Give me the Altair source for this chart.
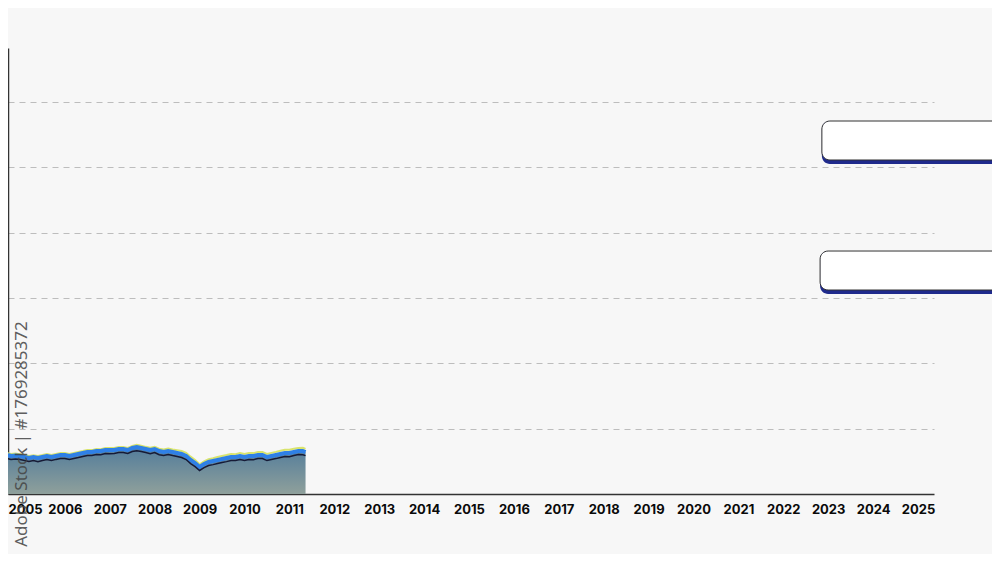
import altair as alt
import pandas as pd

# ---- data ----
years = [2004.73, 2004.8, 2004.9, 2005.0, 2005.1, 2005.2, 2005.3, 2005.4, 2005.5, 2005.6,
         2005.7, 2005.8, 2005.9, 2006.0, 2006.1, 2006.2, 2006.3, 2006.4, 2006.5, 2006.6,
         2006.7, 2006.8, 2006.9, 2007.0, 2007.1, 2007.2, 2007.3, 2007.4, 2007.5, 2007.6,
         2007.7, 2007.8, 2007.9, 2008.0, 2008.1, 2008.2, 2008.3, 2008.4, 2008.5, 2008.6,
         2008.7, 2008.8, 2008.9, 2009.0, 2009.1, 2009.2, 2009.3, 2009.4, 2009.5, 2009.6,
         2009.7, 2009.8, 2009.9, 2010.0, 2010.1, 2010.2, 2010.3, 2010.4, 2010.5, 2010.6,
         2010.7, 2010.8, 2010.9, 2011.0, 2011.1, 2011.2, 2011.3, 2011.36]

blue = [5.97, 5.82, 5.90, 5.82, 5.67, 5.51, 5.67, 5.51, 5.67, 5.82,
        5.67, 5.82, 5.97, 5.97, 5.82, 5.97, 6.13, 6.28, 6.43, 6.43,
        6.58, 6.58, 6.74, 6.74, 6.74, 6.89, 6.89, 6.74, 7.04, 7.20,
        7.04, 6.89, 6.74, 6.89, 6.58, 6.43, 6.58, 6.43, 6.28, 6.13,
        5.82, 5.21, 4.75, 4.13, 4.59, 4.90, 5.05, 5.21, 5.36, 5.51,
        5.67, 5.67, 5.82, 5.67, 5.82, 5.82, 5.97, 5.97, 5.67, 5.82,
        5.97, 6.13, 6.28, 6.28, 6.43, 6.58, 6.58, 6.43]

yellow = [6.25, 6.12, 6.20, 6.10, 5.98, 5.82, 5.95, 5.84, 5.96, 6.12,
          5.98, 6.13, 6.27, 6.26, 6.12, 6.28, 6.44, 6.58, 6.74, 6.72,
          6.89, 6.87, 7.04, 7.05, 7.03, 7.20, 7.18, 7.05, 7.36, 7.52,
          7.38, 7.22, 7.10, 7.24, 6.95, 6.82, 6.96, 6.82, 6.70, 6.58,
          6.30, 5.72, 5.22, 4.55, 4.98, 5.32, 5.48, 5.66, 5.82, 5.96,
          6.12, 6.10, 6.28, 6.12, 6.28, 6.26, 6.42, 6.44, 6.14, 6.30,
          6.45, 6.62, 6.76, 6.78, 6.92, 7.06, 7.08, 6.92]

black = [5.42, 5.30, 5.36, 5.28, 5.14, 4.98, 5.12, 4.96, 5.14, 5.28,
         5.12, 5.30, 5.44, 5.42, 5.28, 5.44, 5.58, 5.74, 5.88, 5.90,
         6.04, 6.02, 6.20, 6.18, 6.22, 6.34, 6.36, 6.20, 6.50, 6.64,
         6.50, 6.36, 6.18, 6.34, 6.02, 5.90, 6.04, 5.88, 5.74, 5.58,
         5.28, 4.66, 4.20, 3.60, 4.04, 4.36, 4.50, 4.66, 4.82, 4.96,
         5.12, 5.12, 5.28, 5.12, 5.28, 5.26, 5.42, 5.44, 5.12, 5.28,
         5.42, 5.58, 5.74, 5.72, 5.88, 6.04, 6.02, 5.88]

tick_years = list(range(2005, 2026))
grid_values = [10, 20, 30, 40, 50, 60]

# two empty label boxes on the right
box_start = [2022.86, 2022.82]
box_end = [2027.5, 2027.5]
box_top = [57.12, 37.21]
box_bottom = [51.15, 31.24]
shadow_bottom = [50.54, 30.63]

watermark = "Adobe Stock | #1769285372"

# ---- tables ----
series = pd.DataFrame({"year": years, "blue": blue, "yellow": yellow, "black": black})
boxes = pd.DataFrame({"x": box_start, "x2": box_end, "top": box_top,
                      "bottom": box_bottom, "shadow": shadow_bottom})

x_scale = alt.Scale(domain=[2004.733, 2025.357], nice=False, zero=False)
y_scale = alt.Scale(domain=[0, 68.3], nice=False)

x_axis = alt.Axis(values=tick_years, format="d", title=None, grid=False, ticks=False,
                  domainColor="#333333", domainWidth=1.5, labelFont="Inter",
                  labelFontWeight="bold", labelFontSize=13, labelColor="#0a0a0a",
                  labelPadding=9, labelFlush=False,
                  labelOffset={"condition": {"test": "datum.value == 2005", "value": 5},
                               "value": 0})
y_axis = alt.Axis(values=grid_values, title=None, labels=False, ticks=False,
                  domainColor="#333333", domainWidth=1.5, grid=True,
                  gridDash=[6, 5], gridColor="#bdbdbd", gridWidth=1)

base = alt.Chart(series)

area = base.mark_area(
    color=alt.Gradient(
        gradient="linear",
        stops=[alt.GradientStop(color="#527c9b", offset=0),
               alt.GradientStop(color="#8fa09b", offset=1)],
        x1=1, x2=1, y1=0, y2=1),
).encode(x=alt.X("year:Q", scale=x_scale, axis=x_axis),
         y=alt.Y("blue:Q", scale=y_scale, axis=y_axis))

line_yellow = base.mark_line(color="#d9e46c", strokeWidth=2).encode(
    x=alt.X("year:Q", scale=x_scale), y=alt.Y("yellow:Q", scale=y_scale))
line_blue = base.mark_line(color="#2f80e6", strokeWidth=4).encode(
    x=alt.X("year:Q", scale=x_scale), y=alt.Y("blue:Q", scale=y_scale))
line_black = base.mark_line(color="#161a36", strokeWidth=1.5).encode(
    x=alt.X("year:Q", scale=x_scale), y=alt.Y("black:Q", scale=y_scale))

bx = alt.Chart(boxes)
shadow = bx.mark_rect(color="#1f2a8c", cornerRadius=8).encode(
    x=alt.X("x:Q", scale=x_scale), x2="x2:Q",
    y=alt.Y("top:Q", scale=y_scale), y2="shadow:Q")
box = bx.mark_rect(fill="#ffffff", stroke="#333333", strokeWidth=1, cornerRadius=8).encode(
    x=alt.X("x:Q", scale=x_scale), x2="x2:Q",
    y=alt.Y("top:Q", scale=y_scale), y2="bottom:Q")

wm = alt.Chart(pd.DataFrame({"t": [watermark]})).mark_text(
    angle=270, align="center", baseline="middle", font="Noto Sans",
    fontSize=17, color="#444444", opacity=0.85
).encode(text="t:N", x=alt.value(14), y=alt.value(386))

chart = alt.layer(area, line_yellow, line_blue, line_black, shadow, box, wm).properties(
    width=926, height=446,
    padding={"left": 0, "top": 40, "right": 58, "bottom": 60},
    autosize=alt.AutoSizeParams(type="none"),
    background="#f7f7f7",
).configure_view(stroke=None)

chart.save("out.html", embed_options={"renderer": "svg", "actions": False})
